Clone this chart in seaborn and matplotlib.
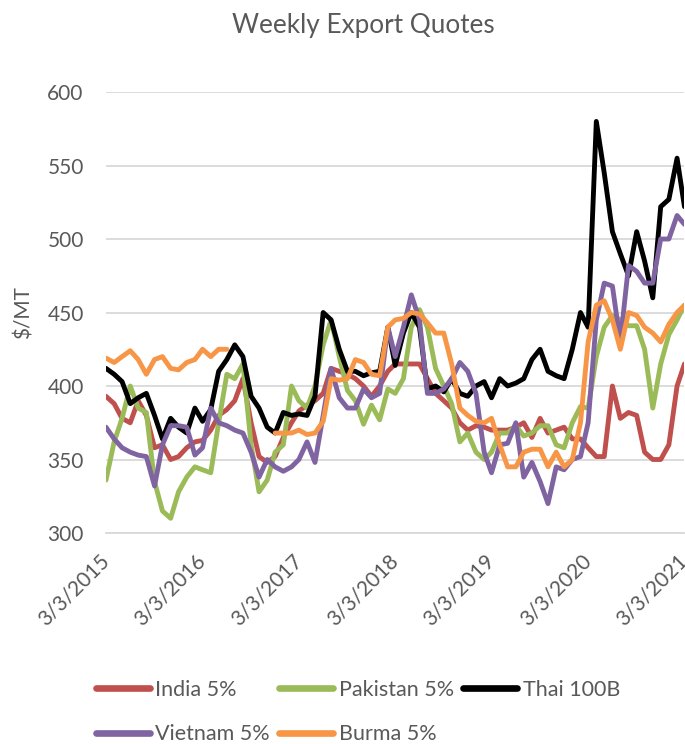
import numpy as np
import pandas as pd
import matplotlib.pyplot as plt
import seaborn as sns
from matplotlib.lines import Line2D

# =========================
# DATA (monthly readings, $/MT)
# =========================
dates = pd.date_range("2015-03-03", periods=73, freq=pd.DateOffset(months=1))

india = [393, 388, 378, 375, 390, 380, 358, 360, 350, 352, 358, 362, 363,
         370, 380, 384, 390, 405, 375, 352, 348, 352, 365, 375, 383,
         387, 390, 395, 412, 410, 408, 405, 400, 393, 400, 410, 415,
         415, 415, 415, 405, 395, 390, 385, 375, 370, 373, 372, 370,
         370, 370, 372, 375, 365, 378, 368, 370, 372, 364, 364, 358,
         352, 352, 400, 378, 382, 380, 355, 350, 350, 360, 400, 415]

pakistan = [336, 362, 378, 400, 385, 382, 335, 315, 310, 328, 338, 345, 343,
            341, 375, 408, 405, 415, 360, 328, 336, 355, 360, 400, 390,
            385, 400, 428, 445, 420, 397, 390, 374, 387, 377, 398, 395,
            405, 440, 452, 440, 412, 400, 388, 362, 368, 355, 350, 355,
            368, 368, 373, 366, 368, 373, 373, 360, 358, 375, 386, 385,
            420, 440, 448, 445, 441, 441, 425, 385, 415, 435, 445, 455]

thai = [412, 408, 403, 388, 392, 395, 380, 364, 378, 372, 368, 385, 376,
        384, 410, 418, 428, 420, 393, 385, 372, 368, 382, 380, 381,
        380, 393, 450, 445, 425, 410, 410, 407, 409, 410, 440, 414,
        436, 450, 440, 398, 400, 396, 405, 395, 393, 400, 403, 392,
        405, 400, 402, 405, 418, 425, 410, 407, 405, 425, 450, 440,
        580, 545, 505, 490, 475, 505, 485, 460, 522, 527, 555, 522]

vietnam = [372, 364, 358, 355, 353, 352, 332, 360, 373, 373, 372, 353, 358,
           385, 375, 373, 370, 368, 355, 338, 350, 345, 342, 345, 350,
           362, 348, 380, 412, 392, 385, 385, 398, 392, 395, 440, 420,
           440, 462, 445, 395, 395, 398, 405, 416, 410, 395, 355, 341,
           360, 361, 375, 338, 348, 335, 320, 345, 343, 350, 352, 375,
           445, 470, 468, 430, 482, 478, 470, 470, 500, 500, 516, 510]

burma = [419, 416, 420, 424, 418, 408, 418, 420, 412, 411, 416, 418, 425,
         420, 425, 425, np.nan, np.nan, np.nan, np.nan, np.nan, 368, 368, 368, 370,
         367, 368, 376, 405, 404, 405, 418, 416, 408, 407, 440, 445,
         446, 450, 449, 443, 436, 436, 415, 385, 380, 376, 375, 378,
         360, 345, 345, 355, 357, 357, 345, 355, 345, 350, 375, 430,
         455, 458, 445, 425, 450, 448, 440, 436, 430, 442, 450, 455]

series_names = ["India 5%", "Pakistan 5%", "Thai 100B", "Vietnam 5%", "Burma 5%"]
colors = ["#C0504D", "#9BBB59", "#000000", "#8064A2", "#F79646"]
year_ticks = pd.date_range("2015-03-03", periods=7, freq=pd.DateOffset(years=1))

df = pd.DataFrame({"date": dates, "India 5%": india, "Pakistan 5%": pakistan,
                   "Thai 100B": thai, "Vietnam 5%": vietnam, "Burma 5%": burma})
long = df.melt(id_vars="date", var_name="series", value_name="price")
# split series at gaps so the line breaks where there is no quote
long["unit"] = long["series"] + long.groupby("series")["price"].transform(
    lambda s: s.isna().cumsum()).astype(str)
long = long.dropna()

# =========================
# PLOT
# =========================
sns.set_style("white")
plt.rcParams["font.family"] = ["Lato", "DejaVu Sans"]
text_color = "#595959"
grid_color = "#D9D9D9"

fig = plt.figure(figsize=(6.85, 7.44), dpi=100)
ax = fig.add_axes([0.1547, 0.2836, 0.8445, 0.5927])

palette = dict(zip(series_names, colors))
sns.lineplot(data=long, x="date", y="price", hue="series", units="unit",
             estimator=None, hue_order=series_names, palette=palette,
             linewidth=3.5, legend=False, ax=ax)

ax.set_ylim(300, 600)
ax.set_yticks(range(300, 601, 50))
ax.set_xlim(year_ticks[0], year_ticks[-1])
ax.set_xticks(year_ticks)
ax.set_xticklabels([f"{d.month}/{d.day}/{d.year}" for d in year_ticks],
                   rotation=45, ha="right", va="center", rotation_mode="anchor")

ax.yaxis.grid(True, color=grid_color, linewidth=1.3)
ax.set_axisbelow(True)
for side in ["left", "top", "right"]:
    ax.spines[side].set_visible(False)
ax.spines["bottom"].set_color(grid_color)
ax.spines["bottom"].set_linewidth(1.3)
ax.tick_params(axis="x", colors=text_color, labelsize=15, length=5, width=1.3,
               color=grid_color, pad=13)
ax.tick_params(axis="y", colors=text_color, labelsize=15, length=0, pad=16)

ax.set_xlabel("")
ax.set_ylabel("$/MT", color=text_color, fontsize=15, labelpad=10)
fig.text(0.53, 0.966, "Weekly Export Quotes", color=text_color, fontsize=18.8,
         ha="center", va="center")

# legend laid out row by row like the original
order = [0, 3, 1, 4, 2]
handles = [Line2D([], [], color=colors[i], linewidth=4.8, solid_capstyle="round")
           for i in order]
labels = [series_names[i] for i in order]
fig.legend(handles, labels, ncol=3, loc="center left",
           bbox_to_anchor=(0.140, 0.043), frameon=False, fontsize=15.5,
           labelcolor=text_color, handlelength=2.5, handletextpad=0.25,
           columnspacing=0.45, labelspacing=1.15, borderpad=0, borderaxespad=0)

fig.savefig("out.png", dpi=100)
